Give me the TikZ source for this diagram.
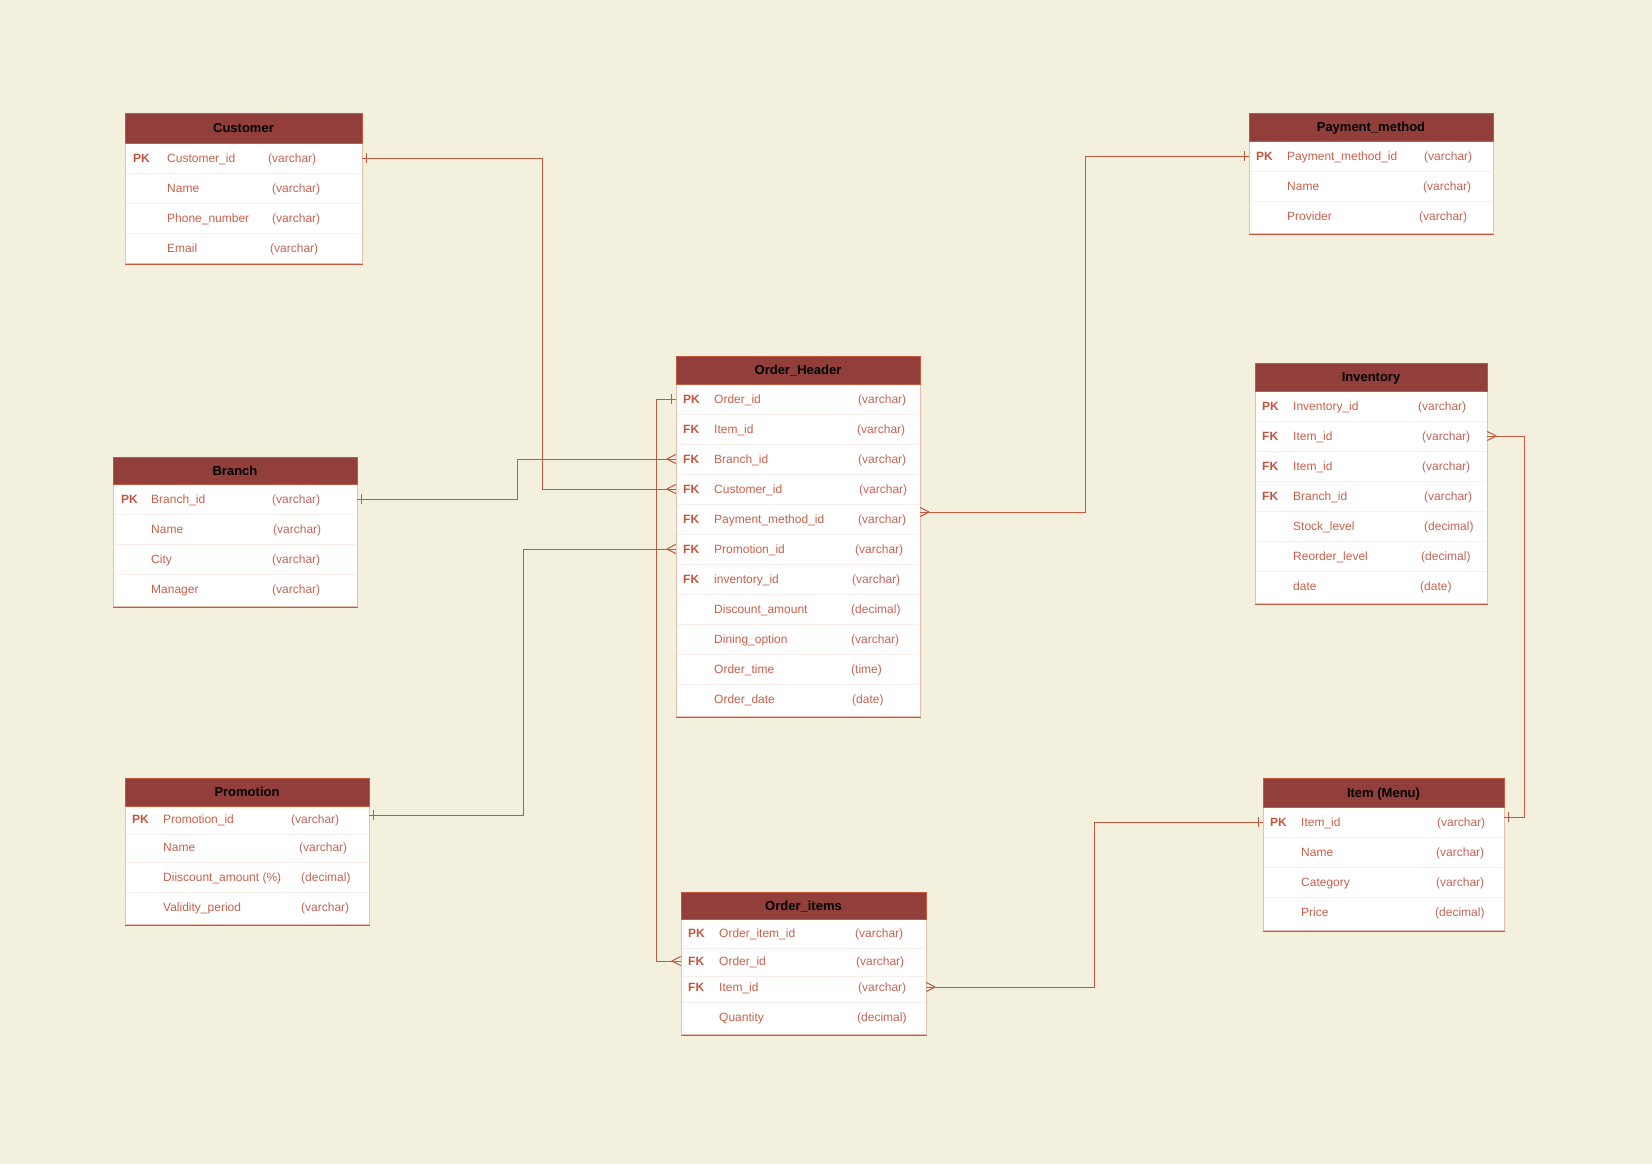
\documentclass[tikz,border=0pt]{standalone}
\usepackage{fontspec}
\setmainfont{Liberation Sans}
\definecolor{bgc}{RGB}{244,240,222}
\definecolor{hdrc}{RGB}{146,63,59}
\definecolor{lnc}{RGB}{197,88,62}
\definecolor{keyc}{RGB}{196,86,64}
\definecolor{fldc}{RGB}{200,96,74}
\definecolor{typc}{RGB}{196,100,86}
\definecolor{bodyc}{RGB}{232,190,176}
\definecolor{sepc}{RGB}{250,238,234}
\tikzset{
  conn/.style={draw=lnc, line width=1pt},
  body/.style={draw=bodyc, fill=white, line width=1pt, inner sep=0pt},
  hdr/.style={draw=lnc, fill=hdrc, line width=1pt, inner sep=0pt},
  htitle/.style={inner sep=0pt, text=black, font=\fontsize{13}{15}\selectfont\bfseries},
  rowsp/.style={inner sep=0pt, minimum height=0pt},
  sepl/.style={draw=sepc, line width=0.8pt},
  keyt/.style={inner sep=0pt, anchor=base west, text=keyc, font=\fontsize{12}{14}\selectfont\bfseries},
  fldt/.style={inner sep=0pt, anchor=base west, text=fldc, font=\fontsize{12}{14}\selectfont},
  typt/.style={inner sep=0pt, anchor=base west, text=typc, font=\fontsize{12}{14}\selectfont},
}
\newcommand\erbegin[9]{%
  \def\ERn{#1}\def\ERtitle{#2}\def\ERl{#3}\def\ERr{#4}\def\ERt{#5}\def\ERh{#6}\def\ERb{#7}\def\ERk{#8}\def\ERf{#9}%
  \node[body, anchor=north west, minimum width={#4-#3}, minimum height={#7-#6}] (#1) at (#3,#6) {};}
\newcommand\errow[6]{%
  \node[rowsp, minimum width={\ERr-\ERl}] (#1) at ({(\ERl+\ERr)/2},#2) {};
  \pgfmathsetmacro\ERsy{#2+15}%
  \ifdim\ERsy pt<\dimexpr\ERb pt-6pt\relax
    \draw[sepl] (\ERl+1,\ERsy) -- (\ERr-1,\ERsy);
  \fi
  \node[keyt] (#1-k) at (\ERk,#2+4.3) {#3};
  \node[fldt] (#1-f) at (\ERf,#2+4.3) {#4};
  \node[typt] (#1-y) at (#6,#2+4.3) {#5};}
\newcommand\erend{%
  \draw[conn] (\ERn.south west) -- (\ERn.south east);
  \node[hdr, anchor=north west, minimum width={\ERr-\ERl}, minimum height={\ERh-\ERt}] (\ERn-h) at (\ERl,\ERt) {};
  \node[htitle, anchor=base] (\ERn-t) at ({(\ERl+\ERr)/2},{(\ERt+\ERh)/2+4.7}) {\ERtitle};}
\newcommand\crowW[1]{\draw[conn] ([xshift=-9pt]#1) -- ([yshift=4.5pt]#1) ([xshift=-9pt]#1) -- ([yshift=-4.5pt]#1);}
\newcommand\crowE[1]{\draw[conn] ([xshift=9pt]#1) -- ([yshift=4.5pt]#1) ([xshift=9pt]#1) -- ([yshift=-4.5pt]#1);}
\newcommand\tickW[1]{\draw[conn] ([xshift=-4.5pt,yshift=5pt]#1) -- ([xshift=-4.5pt,yshift=-5pt]#1);}
\newcommand\tickE[1]{\draw[conn] ([xshift=4.5pt,yshift=5pt]#1) -- ([xshift=4.5pt,yshift=-5pt]#1);}
\begin{document}
\begin{tikzpicture}[x=1pt,y=-1pt]
\useasboundingbox (0,0) rectangle (1652,1164);
\fill[bgc] (0,0) rectangle (1652,1164);

% Customer
\erbegin{cust}{Customer}{125}{362}{113}{143}{263}{133}{167}
\errow{custr1}{158}{PK}{Customer\_id}{(varchar)}{268}
\errow{custr2}{188}{}{Name}{(varchar)}{272}
\errow{custr3}{218}{}{Phone\_number}{(varchar)}{272}
\errow{custr4}{248}{}{Email}{(varchar)}{270}
\erend

% Payment_method
\erbegin{pm}{Payment\_method}{1249}{1493}{113}{141}{233}{1256}{1287}
\errow{pmr1}{156}{PK}{Payment\_method\_id}{(varchar)}{1424}
\errow{pmr2}{186}{}{Name}{(varchar)}{1423}
\errow{pmr3}{216}{}{Provider}{(varchar)}{1419}
\erend

% Branch
\erbegin{bran}{Branch}{113}{357}{457}{484}{606}{121}{151}
\errow{branr1}{499}{PK}{Branch\_id}{(varchar)}{272}
\errow{branr2}{529}{}{Name}{(varchar)}{273}
\errow{branr3}{559}{}{City}{(varchar)}{272}
\errow{branr4}{589}{}{Manager}{(varchar)}{272}
\erend

% Order_Header
\erbegin{oh}{Order\_Header}{676}{920}{356}{384}{716}{683}{714}
\errow{ohr1}{399}{PK}{Order\_id}{(varchar)}{858}
\errow{ohr2}{429}{FK}{Item\_id}{(varchar)}{857}
\errow{ohr3}{459}{FK}{Branch\_id}{(varchar)}{858}
\errow{ohr4}{489}{FK}{Customer\_id}{(varchar)}{859}
\errow{ohr5}{519}{FK}{Payment\_method\_id}{(varchar)}{858}
\errow{ohr6}{549}{FK}{Promotion\_id}{(varchar)}{855}
\errow{ohr7}{579}{FK}{inventory\_id}{(varchar)}{852}
\errow{ohr8}{609}{}{Discount\_amount}{(decimal)}{851}
\errow{ohr9}{639}{}{Dining\_option}{(varchar)}{851}
\errow{ohr10}{669}{}{Order\_time}{(time)}{851}
\errow{ohr11}{699}{}{Order\_date}{(date)}{852}
\erend

% Inventory
\erbegin{inv}{Inventory}{1255}{1487}{363}{391}{603}{1262}{1293}
\errow{invr1}{406}{PK}{Inventory\_id}{(varchar)}{1418}
\errow{invr2}{436}{FK}{Item\_id}{(varchar)}{1422}
\errow{invr3}{466}{FK}{Item\_id}{(varchar)}{1422}
\errow{invr4}{496}{FK}{Branch\_id}{(varchar)}{1424}
\errow{invr5}{526}{}{Stock\_level}{(decimal)}{1424}
\errow{invr6}{556}{}{Reorder\_level}{(decimal)}{1421}
\errow{invr7}{586}{}{date}{(date)}{1420}
\erend

% Promotion
\erbegin{prom}{Promotion}{125}{369}{778}{806}{924}{132}{163}
\errow{promr1}{819}{PK}{Promotion\_id}{(varchar)}{291}
\errow{promr2}{847}{}{Name}{(varchar)}{299}
\errow{promr3}{877}{}{Diiscount\_amount (\%)}{(decimal)}{301}
\errow{promr4}{907}{}{Validity\_period}{(varchar)}{301}
\erend

% Item (Menu)
\erbegin{item}{Item (Menu)}{1263}{1504}{778}{807}{930}{1270}{1301}
\errow{itemr1}{822}{PK}{Item\_id}{(varchar)}{1437}
\errow{itemr2}{852}{}{Name}{(varchar)}{1436}
\errow{itemr3}{882}{}{Category}{(varchar)}{1436}
\errow{itemr4}{912}{}{Price}{(decimal)}{1435}
\erend

% Order_items
\erbegin{oi}{Order\_items}{681}{926}{892}{919}{1034}{688}{719}
\errow{oir1}{933}{PK}{Order\_item\_id}{(varchar)}{855}
\errow{oir2}{961}{FK}{Order\_id}{(varchar)}{856}
\errow{oir3}{987}{FK}{Item\_id}{(varchar)}{858}
\errow{oir4}{1017}{}{Quantity}{(decimal)}{857}
\erend

% bend coordinates
\coordinate (k1) at (542,0);
\coordinate (k2) at (517,0);
\coordinate (k3) at (523,0);
\coordinate (k4) at (656,0);
\coordinate (k5) at (1085,0);
\coordinate (k6) at (1524,0);
\coordinate (k7) at (1094,0);
\coordinate (promA) at ([yshift=4pt]promr1.east);
\coordinate (pmA) at ([yshift=7pt]ohr5.east);
\coordinate (itemA) at ([yshift=5pt]itemr1.east);

% connectors
\draw[conn] (custr1.east) -| (k1 |- ohr4.west) -- (ohr4.west);
\tickE{custr1.east} \crowW{ohr4.west}

\draw[conn] (branr1.east) -| (k2 |- ohr3.west) -- (ohr3.west);
\tickE{branr1.east} \crowW{ohr3.west}

\draw[conn] (promA) -| (k3 |- ohr6.west) -- (ohr6.west);
\tickE{promA} \crowW{ohr6.west}

\draw[conn] (ohr1.west) -| (k4 |- oir2.west) -- (oir2.west);
\tickW{ohr1.west} \crowW{oir2.west}

\draw[conn] (pmA) -| (k5 |- pmr1.west) -- (pmr1.west);
\crowE{pmA} \tickW{pmr1.west}

\draw[conn] (invr2.east) -| (k6 |- itemA) -- (itemA);
\crowE{invr2.east} \tickE{itemA}

\draw[conn] (oir3.east) -| (k7 |- itemr1.west) -- (itemr1.west);
\crowE{oir3.east} \tickW{itemr1.west}
\end{tikzpicture}
\end{document}
